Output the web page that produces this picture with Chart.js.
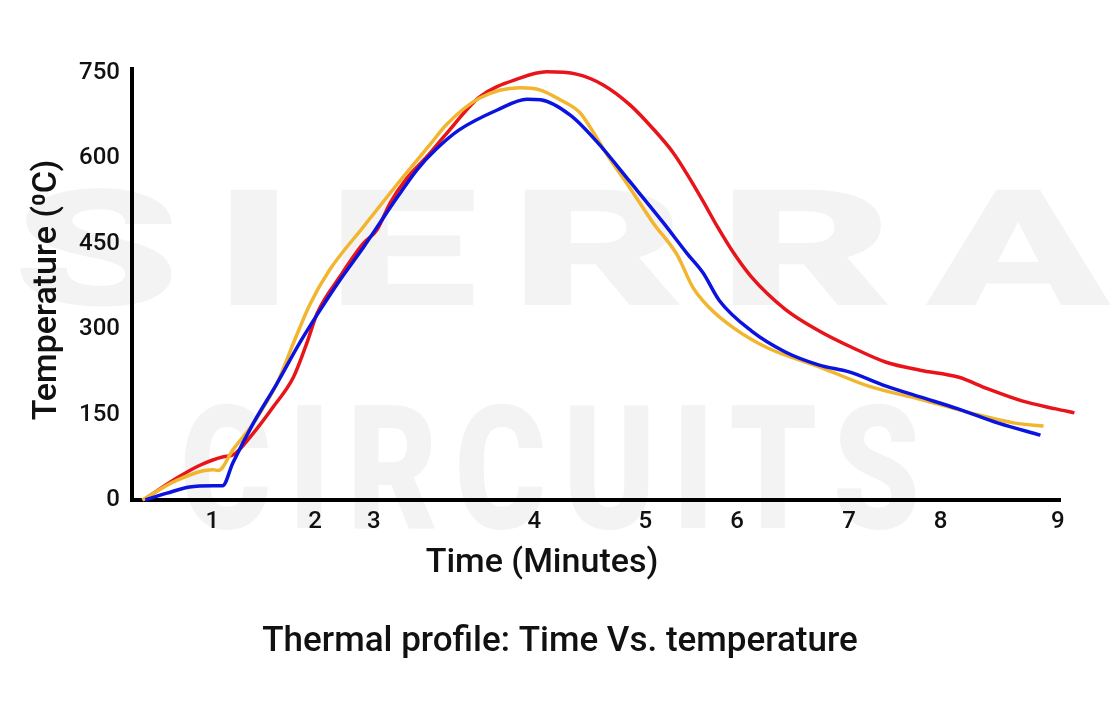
<!DOCTYPE html>
<html>
<head>
<meta charset="utf-8">
<script src="https://cdn.jsdelivr.net/npm/chart.js@4.4.0/dist/chart.umd.min.js"></script>
<style>
  html, body { margin: 0; padding: 0; background: #fff; }
  #wrap { width: 1120px; height: 720px; position: relative; }
</style>
</head>
<body>
<div id="wrap"><canvas id="chart"></canvas></div>
<script>
// x axis: tick label positions (label spacing in the source is uneven)
const tickLabels = ['1', '2', '3', '4', '5', '6', '7', '8', '9'];
const tickPos = [0.78, 1.78, 2.35, 3.91, 4.99, 5.88, 6.97, 7.86, 9.0];
const tempTicks = [0, 150, 300, 450, 600, 750];

// blue profile
const blueTime = [0.13, 0.34, 0.56, 0.79, 0.88, 0.98, 1.18, 1.41, 1.63, 1.83, 2.02, 2.25, 2.44, 2.58, 2.77, 2.95, 3.18, 3.55, 3.84, 3.97, 4.26, 4.52, 4.84, 5.16, 5.40, 5.55, 5.71, 6.02, 6.35, 6.68, 6.97, 7.33, 7.66, 8.03, 8.42, 8.83];
const blueTemp = [0, 12, 23, 25, 25, 65, 135, 205, 276, 334, 386, 444, 495, 532, 580, 615, 650, 685, 704, 703, 676, 629, 559, 488, 432, 399, 350, 297, 260, 237, 225, 200, 181, 160, 135, 114];

// yellow profile
const yellowTime = [0.10, 0.44, 0.79, 0.84, 0.98, 1.18, 1.41, 1.57, 1.73, 1.92, 2.25, 2.58, 2.90, 3.06, 3.38, 3.77, 3.97, 4.16, 4.35, 4.42, 4.62, 4.84, 5.06, 5.30, 5.45, 5.60, 5.85, 6.18, 6.68, 7.16, 7.66, 8.15, 8.58, 8.86];
const yellowTemp = [0, 35, 53, 52, 88, 135, 205, 276, 344, 404, 480, 555, 625, 660, 706, 724, 720, 703, 681, 664, 606, 548, 488, 430, 374, 340, 302, 267, 234, 200, 177, 153, 135, 130];

// red profile
const redTime = [0.11, 0.44, 0.66, 0.89, 0.98, 1.15, 1.37, 1.57, 1.70, 1.80, 2.02, 2.25, 2.38, 2.51, 2.67, 2.87, 3.04, 3.38, 3.77, 4.03, 4.32, 4.58, 4.84, 5.06, 5.26, 5.42, 5.55, 5.69, 5.84, 6.02, 6.35, 6.68, 7.01, 7.33, 7.66, 8.03, 8.32, 8.65, 8.98, 9.16];
const redTemp = [0, 39, 61, 76, 79, 111, 163, 216, 276, 328, 392, 451, 474, 522, 565, 604, 640, 708, 741, 752, 748, 729, 694, 653, 610, 565, 525, 480, 436, 392, 335, 297, 267, 242, 228, 216, 195, 174, 160, 153];

const pts = (xs, ys) => xs.map((x, i) => ({ x: x, y: ys[i] }));

const textPlugin = {
  id: 'texts',
  beforeDraw(chart) {
    const ctx = chart.ctx;
    const fitWord = (word, left, right, base, size) => {
      ctx.save();
      ctx.fillStyle = '#f3f3f3';
      ctx.textAlign = 'left';
      ctx.textBaseline = 'alphabetic';
      ctx.font = '900 ' + size + 'px Roboto';
      const sp = size * 0.12;
      ctx.letterSpacing = sp + 'px';
      const w = ctx.measureText(word).width - sp;
      ctx.translate(left, base);
      ctx.scale((right - left) / w, 1);
      ctx.fillText(word, 0, 0);
      ctx.restore();
    };
    fitWord('SIERRA', 12, 1110, 305, 162);
    fitWord('CIRCUITS', 180, 920, 528, 172);
  },
  afterDraw(chart) {
    const ctx = chart.ctx;
    const a = chart.chartArea;
    ctx.save();
    ctx.fillStyle = '#111';
    ctx.textAlign = 'center';
    ctx.textBaseline = 'middle';
    ctx.font = '500 34px Roboto';
    ctx.fillText('Time (Minutes)', 542, a.bottom + 63);
    ctx.font = '500 35px Roboto';
    ctx.fillText('Thermal profile: Time Vs. temperature', 560, a.bottom + 142);
    ctx.translate(47, 290);
    ctx.rotate(-Math.PI / 2);
    ctx.font = '500 34px Roboto';
    ctx.fillText('Temperature (\u2070C)', 0, 0);
    ctx.restore();
  }
};

const lineStyle = { borderWidth: 3.5, cubicInterpolationMode: 'monotone', pointRadius: 0, clip: false };

new Chart(document.getElementById('chart'), {
  type: 'line',
  data: {
    datasets: [
      { label: 'Blue', data: pts(blueTime, blueTemp), borderColor: '#0a14de', ...lineStyle },
      { label: 'Yellow', data: pts(yellowTime, yellowTemp), borderColor: '#f2b52e', ...lineStyle },
      { label: 'Red', data: pts(redTime, redTemp), borderColor: '#e8141a', ...lineStyle }
    ]
  },
  options: {
    responsive: true,
    maintainAspectRatio: false,
    animation: false,
    layout: { padding: { left: 0, top: 69, right: 60, bottom: 0 } },
    plugins: { legend: { display: false }, tooltip: { enabled: false } },
    scales: {
      x: {
        type: 'linear',
        min: 0,
        max: 9.02,
        afterBuildTicks: s => { s.ticks = tickPos.map(v => ({ value: v })); },
        afterFit: s => { s.height = 220; },
        grid: { display: false, drawTicks: false },
        border: { color: '#000', width: 4 },
        ticks: {
          autoSkip: false, maxRotation: 0, padding: 8,
          color: '#111', font: { family: 'Roboto', size: 24, weight: '500' },
          callback: (v, i) => tickLabels[i]
        }
      },
      y: {
        min: 0,
        max: 757,
        afterBuildTicks: s => { s.ticks = tempTicks.map(v => ({ value: v })); },
        afterFit: s => { s.width = 132; },
        grid: { display: false, drawTicks: false },
        border: { color: '#000', width: 4 },
        ticks: {
          padding: 12,
          color: '#111', font: { family: 'Roboto', size: 24, weight: '500' }
        }
      }
    }
  },
  plugins: [textPlugin]
});
</script>
</body>
</html>
